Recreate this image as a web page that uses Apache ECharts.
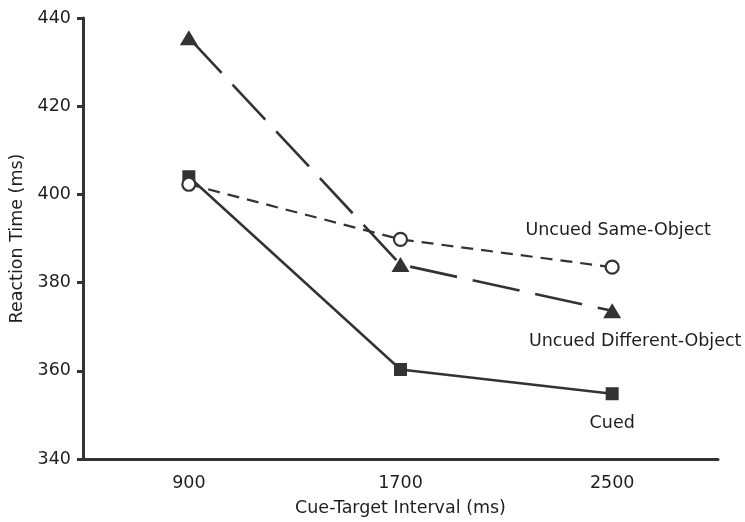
<!DOCTYPE html>
<html>
<head>
<meta charset="utf-8">
<title>Reaction Time by Cue-Target Interval</title>
<script src="https://cdn.jsdelivr.net/npm/echarts@6/dist/echarts.min.js"></script>
<style>
  html, body { margin: 0; padding: 0; background: #fff; }
  #chart { width: 745px; height: 522px; }
</style>
</head>
<body>
<div id="chart"></div>
<script>
// x categories (ms)
const intervals = ['900', '1700', '2500']
// reaction times (ms)
const cued = [404, 360.3, 354.8]
const uncuedDifferent = [435.5, 384.1, 373.6]
const uncuedSame = [402.3, 389.8, 383.5]
// y axis
const yMin = 340
const yMax = 440
const yStep = 20

const ink = '#333333'
const textInk = '#1e1e1e'
const font = 'DejaVu Sans'

let myChart = echarts.init(document.getElementById('chart'))

// show the series name only next to the last point
let lastLabel = (p) => (p.dataIndex === intervals.length - 1 ? p.seriesName : '')

let option = {
  animation: false,
  backgroundColor: '#fff',
  grid: {
    left: 83,
    right: 27,
    top: 18,
    bottom: 61
  },
  xAxis: {
    type: 'category',
    data: intervals,
    boundaryGap: true,
    name: 'Cue-Target Interval (ms)',
    nameLocation: 'middle',
    nameGap: 40,
    nameTextStyle: { fontFamily: font, fontSize: 17.5, color: textInk },
    axisLine: { lineStyle: { color: ink, width: 3 } },
    axisTick: { alignWithLabel: true, length: 5, lineStyle: { color: ink, width: 3 } },
    axisLabel: { fontFamily: font, fontSize: 17.5, color: textInk, margin: 15 },
    splitLine: { show: false }
  },
  yAxis: {
    type: 'value',
    min: yMin,
    max: yMax,
    interval: yStep,
    name: 'Reaction Time (ms)',
    nameLocation: 'middle',
    nameGap: 54,
    nameTextStyle: { fontFamily: font, fontSize: 17.5, color: textInk },
    axisLine: { show: true, lineStyle: { color: ink, width: 3 } },
    axisTick: { show: true, length: 6, lineStyle: { color: ink, width: 3 } },
    axisLabel: { fontFamily: font, fontSize: 17.5, color: textInk, margin: 12 },
    splitLine: { show: false }
  },
  series: [
    {
      name: 'Cued',
      type: 'line',
      data: cued,
      symbol: 'rect',
      symbolSize: 13,
      lineStyle: { color: ink, width: 2.5, type: 'solid' },
      itemStyle: { color: ink },
      label: {
        show: true,
        position: 'bottom',
        distance: 14,
        formatter: lastLabel,
        fontFamily: font,
        fontSize: 17.5,
        color: textInk
      },
      z: 2
    },
    {
      name: 'Uncued Different-Object',
      type: 'line',
      data: uncuedDifferent,
      symbol: 'triangle',
      symbolSize: [18, 15],
      lineStyle: { color: ink, width: 2.6, type: [48, 16] },
      itemStyle: { color: ink },
      label: {
        show: true,
        position: 'bottom',
        distance: 14,
        offset: [23, 0],
        formatter: lastLabel,
        fontFamily: font,
        fontSize: 17.5,
        color: textInk
      },
      z: 3
    },
    {
      name: 'Uncued Same-Object',
      type: 'line',
      data: uncuedSame,
      symbol: 'circle',
      symbolSize: 13,
      lineStyle: { color: ink, width: 2.2, type: [12, 8] },
      itemStyle: { color: '#fff', borderColor: ink, borderWidth: 2.2 },
      label: {
        show: true,
        position: 'top',
        distance: 20,
        offset: [6, 0],
        formatter: lastLabel,
        fontFamily: font,
        fontSize: 17.5,
        color: textInk
      },
      z: 4
    }
  ]
}

myChart.setOption(option)
</script>
</body>
</html>
